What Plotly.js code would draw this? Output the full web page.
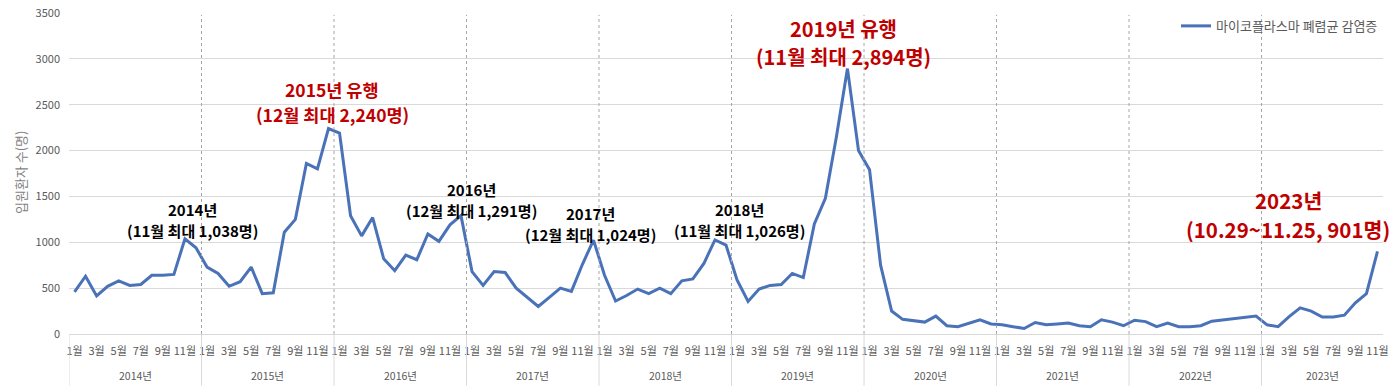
<!DOCTYPE html>
<html><head><meta charset="utf-8">
<script src="https://cdn.plot.ly/plotly-3.0.1.min.js"></script>
<style>html,body{margin:0;padding:0;background:#fff}#chart{width:1400px;height:386px}</style>
</head><body><div id="chart"></div>
<script>
// ---- data ----
const years = [2014, 2015, 2016, 2017, 2018, 2019, 2020, 2021, 2022, 2023];
const yearLabels = ['2014년','2015년','2016년','2017년','2018년','2019년','2020년','2021년','2022년','2023년'];
const monthNames = ['1월','2월','3월','4월','5월','6월','7월','8월','9월','10월','11월','12월'];
const cases2014 = [460, 630, 415, 520, 580, 530, 540, 640, 640, 650, 1038, 940];
const cases2015 = [730, 660, 520, 570, 730, 440, 450, 1110, 1250, 1860, 1800, 2240];
const cases2016 = [2190, 1290, 1070, 1270, 820, 690, 860, 810, 1090, 1010, 1190, 1291];
const cases2017 = [680, 530, 680, 670, 500, 400, 300, 400, 500, 465, 760, 1024];
const cases2018 = [640, 360, 420, 490, 440, 500, 440, 580, 600, 770, 1026, 970];
const cases2019 = [590, 355, 490, 530, 540, 660, 615, 1200, 1480, 2150, 2894, 2000];
const cases2020 = [1790, 750, 250, 160, 145, 130, 195, 90, 80, 115, 155, 110];
const cases2021 = [100, 80, 60, 125, 100, 110, 120, 90, 80, 155, 130, 90];
const cases2022 = [150, 135, 80, 120, 80, 80, 90, 140, 155, 165, 185, 195];
const cases2023 = [100, 80, 190, 285, 250, 185, 185, 205, 340, 440, 901];
const seriesName = '마이코플라스마 폐렴균 감염증';
const yTickVals = [0, 500, 1000, 1500, 2000, 2500, 3000, 3500];
const yAxisTitle = '입원환자 수(명)';
const noteLine1 = ['2014년', '2015년 유행', '2016년', '2017년', '2018년', '2019년 유행', '2023년'];
const noteLine2 = ['(11월 최대 1,038명)', '(12월 최대 2,240명)', '(12월 최대 1,291명)', '(12월 최대 1,024명)', '(11월 최대 1,026명)', '(11월 최대 2,894명)', '(10.29~11.25, 901명)'];

// ---- build ----
const perYear = [cases2014, cases2015, cases2016, cases2017, cases2018, cases2019, cases2020, cases2021, cases2022, cases2023];
const values = [].concat(...perYear);
const xIdx = values.map((_, i) => i);
const tickvals = xIdx.filter(i => (i % 12) % 2 === 0);
const ticktext = tickvals.map(i => monthNames[i % 12]);

// plot area in pixels
const L = 69, R = 1383, T = 11, B = 334;
const px = p => (p - L) / (R - L);
const py = p => (B - p) / (B - T);

const FONT = '"Noto Sans CJK KR", "Noto Sans", sans-serif';
const RED = '#bf0000';

const shapes = [];
const annotations = [];
let start = 0;
perYear.forEach((arr, k) => {
  const end = start + arr.length - 1;
  annotations.push({xref: 'x', yref: 'paper', x: (start + end) / 2, y: py(376), text: yearLabels[k],
    showarrow: false, xanchor: 'center', yanchor: 'middle', font: {family: FONT, size: 10.5, color: '#595959'}});
  shapes.push({type: 'line', xref: 'x', yref: 'paper', x0: start - 0.5, x1: start - 0.5, y0: 0, y1: py(386),
    line: {color: '#d9d9d9', width: 1}});
  if (k > 0) {
    shapes.push({type: 'line', xref: 'x', yref: 'y', x0: start - 0.5, x1: start - 0.5, y0: 0, y1: 3480,
      line: {color: '#a6a6a6', width: 1, dash: 'dot'}});
  }
  start = end + 1;
});

// peak notes: [centerPx, line2CenterPy, size, color]
const noteStyle = [
  [192, 230, 15, '#000'],
  [332, 113, 17.5, RED],
  [471, 210, 15, '#000'],
  [590, 234, 15, '#000'],
  [739, 230, 15, '#000'],
  [843, 55, 20, RED],
  [1288, 228, 20.5, RED]
];
noteStyle.forEach((s, k) => {
  const gap = s[2] * 1.42;
  annotations.push({xref: 'paper', yref: 'paper', x: px(s[0]), y: py(s[1] - gap), text: '<b>' + noteLine1[k] + '</b>',
    showarrow: false, xanchor: 'center', yanchor: 'middle', font: {family: FONT, size: s[2], color: s[3]}});
  annotations.push({xref: 'paper', yref: 'paper', x: px(s[0]), y: py(s[1]), text: '<b>' + noteLine2[k] + '</b>',
    showarrow: false, xanchor: 'center', yanchor: 'middle', font: {family: FONT, size: s[2], color: s[3]}});
});
annotations.push({xref: 'paper', yref: 'paper', x: px(20), y: py(172), text: yAxisTitle, textangle: -90,
  showarrow: false, xanchor: 'center', yanchor: 'middle', font: {family: FONT, size: 13, color: '#7f7f7f'}});

const trace = {
  x: xIdx, y: values, type: 'scatter', mode: 'lines', name: seriesName,
  line: {color: '#4a72b8', width: 3, shape: 'linear'}, hoverinfo: 'skip'
};

const layout = {
  width: 1400, height: 386,
  margin: {l: L, r: 1400 - R, t: T, b: 386 - B, pad: 0},
  paper_bgcolor: '#fff', plot_bgcolor: '#fff',
  font: {family: FONT, color: '#595959'},
  showlegend: true,
  legend: {x: 1, xanchor: 'right', y: py(24), yanchor: 'middle', bgcolor: 'rgba(0,0,0,0)',
    font: {family: FONT, size: 13, color: '#595959'}, itemwidth: 30},
  xaxis: {
    range: [-0.5, values.length - 0.5], tickmode: 'array', tickvals: tickvals, ticktext: ticktext,
    tickangle: 0, showgrid: false, zeroline: false, showline: true, linecolor: '#d9d9d9', linewidth: 1,
    ticks: '', tickfont: {family: FONT, size: 11, color: '#595959'}, ticklabelstandoff: 7, fixedrange: true
  },
  yaxis: {
    range: [0, 3500], tickmode: 'array', tickvals: yTickVals, ticktext: yTickVals.map(String),
    showgrid: true, gridcolor: '#d9d9d9', gridwidth: 1, zeroline: false, showline: false,
    ticks: '', tickfont: {family: FONT, size: 11, color: '#595959'}, ticklabelstandoff: 8, fixedrange: true
  },
  shapes: shapes,
  annotations: annotations
};

Plotly.newPlot('chart', [trace], layout, {displayModeBar: false, staticPlot: true});
</script>
</body></html>
